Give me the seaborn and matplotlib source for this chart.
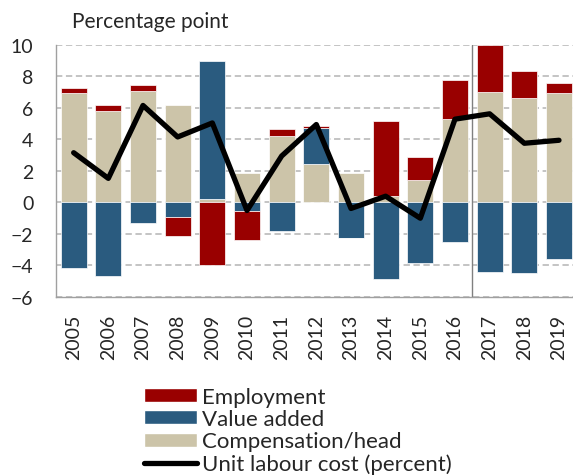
import numpy as np
import matplotlib
matplotlib.use('Agg')
import matplotlib.pyplot as plt
import seaborn as sns
from matplotlib.patches import Patch
from matplotlib.lines import Line2D

# Data (percentage point contributions)
years = ['2005', '2006', '2007', '2008', '2009', '2010', '2011', '2012',
         '2013', '2014', '2015', '2016', '2017', '2018', '2019']
compensation = [6.98, 5.80, 7.09, 6.22, 0.25, 1.89, 4.20, 2.44, 1.89, 0.40, 1.44, 5.27, 7.03, 6.62, 6.94]
value_added = [-4.14, -4.69, -1.30, -0.91, 8.71, -0.53, -1.78, 2.29, -2.23, -4.86, -3.84, -2.50, -4.44, -4.50, -3.59]
employment = [0.28, 0.40, 0.34, -1.19, -3.97, -1.87, 0.49, 0.15, -0.05, 4.78, 1.43, 2.50, 3.00, 1.70, 0.62]
ulc = [3.16, 1.53, 6.16, 4.16, 5.05, -0.51, 2.95, 4.95, -0.38, 0.40, -1.00, 5.29, 5.63, 3.76, 3.95]

c_emp = '#990000'
c_va = '#2A5B7F'
c_comp = '#CCC4A9'

sns.set_style('white')
plt.rcParams['font.family'] = ['Lato', 'DejaVu Sans']

fig = plt.figure(figsize=(5.73, 4.77), dpi=100)
ax = fig.add_axes([0.0983, 0.3753, 0.9075, 0.5283])

# stack positives and negatives separately
pos_base = np.zeros(len(years))
neg_base = np.zeros(len(years))
for vals, col in [(compensation, c_comp), (value_added, c_va), (employment, c_emp)]:
    v = np.array(vals)
    bottoms = np.where(v >= 0, pos_base, neg_base)
    sns.barplot(x=years, y=v, bottom=bottoms, color=col, width=0.75,
                edgecolor='white', linewidth=0.5, saturation=1, ax=ax, zorder=2)
    pos_base = pos_base + np.clip(v, 0, None)
    neg_base = neg_base + np.clip(v, None, 0)

sns.lineplot(x=np.arange(len(years)), y=ulc, color='black', linewidth=3.8,
             sort=False, ax=ax, zorder=4)

ax.axvline(11.5, color='#808080', linewidth=1, zorder=3)

ax.set_ylim(-6, 10)
ax.set_xlim(-0.5, 14.5)
ax.set_yticks(range(-6, 11, 2))
ax.yaxis.grid(True, color='#BFBFBF', linestyle=(0, (3.5, 2)), linewidth=1.3, zorder=0)
ax.set_axisbelow(True)
ax.set_xlabel('')
ax.set_ylabel('')

for s in ['top', 'right']:
    ax.spines[s].set_visible(False)
for s in ['left', 'bottom']:
    ax.spines[s].set_color('#A0A0A0')
    ax.spines[s].set_linewidth(1)

ax.set_xticks(np.arange(len(years)))
ax.set_xticklabels(years, rotation=90, fontsize=14)
ax.set_xticks(np.arange(-0.5, len(years), 1), minor=True)
ax.tick_params(axis='x', which='major', length=0, pad=12)
ax.tick_params(axis='x', which='minor', length=4, color='#A0A0A0', width=1, direction='out')
ax.tick_params(axis='y', length=5.5, color='#BFBFBF', width=1.3, direction='out', pad=11, labelsize=14)

fig.text(72 / 573, 1 - 28.5 / 477, 'Percentage point', fontsize=15, va='baseline', ha='left')

handles = [Patch(facecolor=c_emp), Patch(facecolor=c_va), Patch(facecolor=c_comp),
           Line2D([0], [0], color='black', linewidth=3.8, solid_capstyle='round')]
labels = ['Employment', 'Value added', 'Compensation/head', 'Unit labour cost (percent)']
fig.legend(handles, labels, loc='upper left', bbox_to_anchor=(144 / 573, 1 - 388 / 477),
           frameon=False, fontsize=16, handlelength=2.4, handleheight=0.6,
           handletextpad=0.2, labelspacing=0.1, borderpad=0, borderaxespad=0)

fig.savefig('out.png', dpi=100)
